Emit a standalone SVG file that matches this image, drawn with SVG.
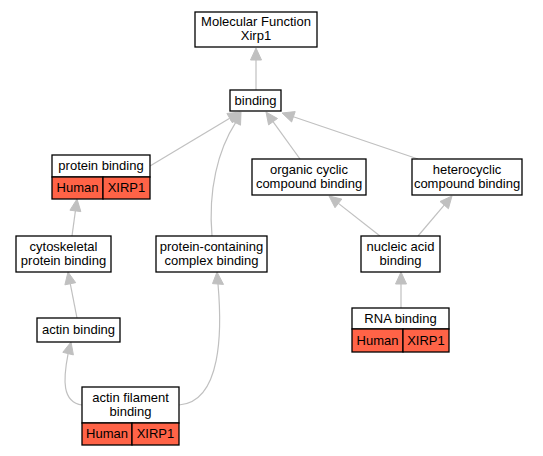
<svg xmlns="http://www.w3.org/2000/svg" width="543" height="456" viewBox="0 0 543 456">
<style>
.box{fill:#fff;stroke:#000;stroke-width:1.3}
.red{fill:#ff6347;stroke:#000;stroke-width:1.3}
text{font-family:"Liberation Sans",Arial,sans-serif;font-size:13px;fill:#000;text-anchor:middle}
.e{fill:none;stroke:#c0c0c0;stroke-width:1.2}
.ah{fill:#c0c0c0;stroke:#c0c0c0;stroke-width:1}
</style>
<rect width="543" height="456" fill="#fff"/>
<g id="connectors">
<path class="e" d="M256,90 L256,60"/><polygon class="ah" points="256,48 250.5,60 261.5,60"/>
<path class="e" d="M150,166 L229.7,118.2"/><polygon class="ah" points="240,112 232.5,122.9 226.9,113.5"/>
<path class="e" d="M212,236 C208,190 218,150 235.6,122.7"/><polygon class="ah" points="241,112 240.5,125.2 230.7,120.2"/>
<path class="e" d="M300,159 L273,121.7"/><polygon class="ah" points="266,112 277.5,118.5 268.6,124.9"/>
<path class="e" d="M418,159 L293.4,116.8"/><polygon class="ah" points="282,113 295.2,111.6 291.6,122"/>
<path class="e" d="M380,236 L338.4,203.4"/><polygon class="ah" points="329,196 341.8,199.1 335,207.7"/>
<path class="e" d="M418,236 L444.2,205.1"/><polygon class="ah" points="452,196 448.4,208.7 440,201.5"/>
<path class="e" d="M401,308 L401,284"/><polygon class="ah" points="401,272 395.5,284 406.5,284"/>
<path class="e" d="M72,236 L75.4,210.9"/><polygon class="ah" points="77,199 80.85,211.6 69.95,210.2"/>
<path class="e" d="M77,318 L70.3,283.8"/><polygon class="ah" points="68,272 75.7,282.7 64.9,284.8"/>
<path class="e" d="M82,405 C62,402 63,380 68.1,353.6"/><polygon class="ah" points="71,342 73.4,354.9 62.8,352.3"/>
<path class="e" d="M179,405 C222,402 222,330 218,284"/><polygon class="ah" points="217,272 223.5,284.4 212.5,283.6"/>
</g>
<g id="mf"><rect class="box" x="195" y="12" width="122" height="35"/><text x="256" y="26">Molecular Function</text><text x="256" y="40">Xirp1</text></g>
<g id="binding"><rect class="box" x="230" y="90" width="51" height="21"/><text x="255.5" y="105">binding</text></g>
<g id="protein-binding"><rect class="box" x="52" y="155" width="98" height="22"/><text x="101" y="170">protein binding</text>
<rect class="red" x="52" y="177" width="51" height="22"/><rect class="red" x="103" y="177" width="47" height="22"/>
<text x="77.5" y="192">Human</text><text x="126.5" y="192">XIRP1</text></g>
<g id="organic"><rect class="box" x="252" y="159" width="114" height="36"/><text x="309" y="174">organic cyclic</text><text x="309" y="188">compound binding</text></g>
<g id="heterocyclic"><rect class="box" x="412" y="159" width="110" height="36"/><text x="467" y="174">heterocyclic</text><text x="467" y="188">compound binding</text></g>
<g id="cytoskeletal"><rect class="box" x="16" y="236" width="95" height="36"/><text x="63.5" y="251">cytoskeletal</text><text x="63.5" y="265">protein binding</text></g>
<g id="complex"><rect class="box" x="156" y="236" width="111" height="36"/><text x="211.5" y="251">protein-containing</text><text x="211.5" y="265">complex binding</text></g>
<g id="nucleic"><rect class="box" x="361" y="236" width="79" height="36"/><text x="400.5" y="251">nucleic acid</text><text x="400.5" y="265">binding</text></g>
<g id="actin"><rect class="box" x="37" y="318" width="83" height="24"/><text x="78.5" y="334">actin binding</text></g>
<g id="rna"><rect class="box" x="352" y="308" width="97" height="21"/><text x="400.5" y="323">RNA binding</text>
<rect class="red" x="352" y="329" width="51" height="23"/><rect class="red" x="403" y="329" width="46" height="23"/>
<text x="377.5" y="345">Human</text><text x="426" y="345">XIRP1</text></g>
<g id="actin-filament"><rect class="box" x="82" y="387" width="97" height="36"/><text x="130.5" y="402">actin filament</text><text x="130.5" y="416">binding</text>
<rect class="red" x="82" y="423" width="50" height="22"/><rect class="red" x="132" y="423" width="47" height="22"/>
<text x="107" y="438">Human</text><text x="155.5" y="438">XIRP1</text></g>
</svg>
